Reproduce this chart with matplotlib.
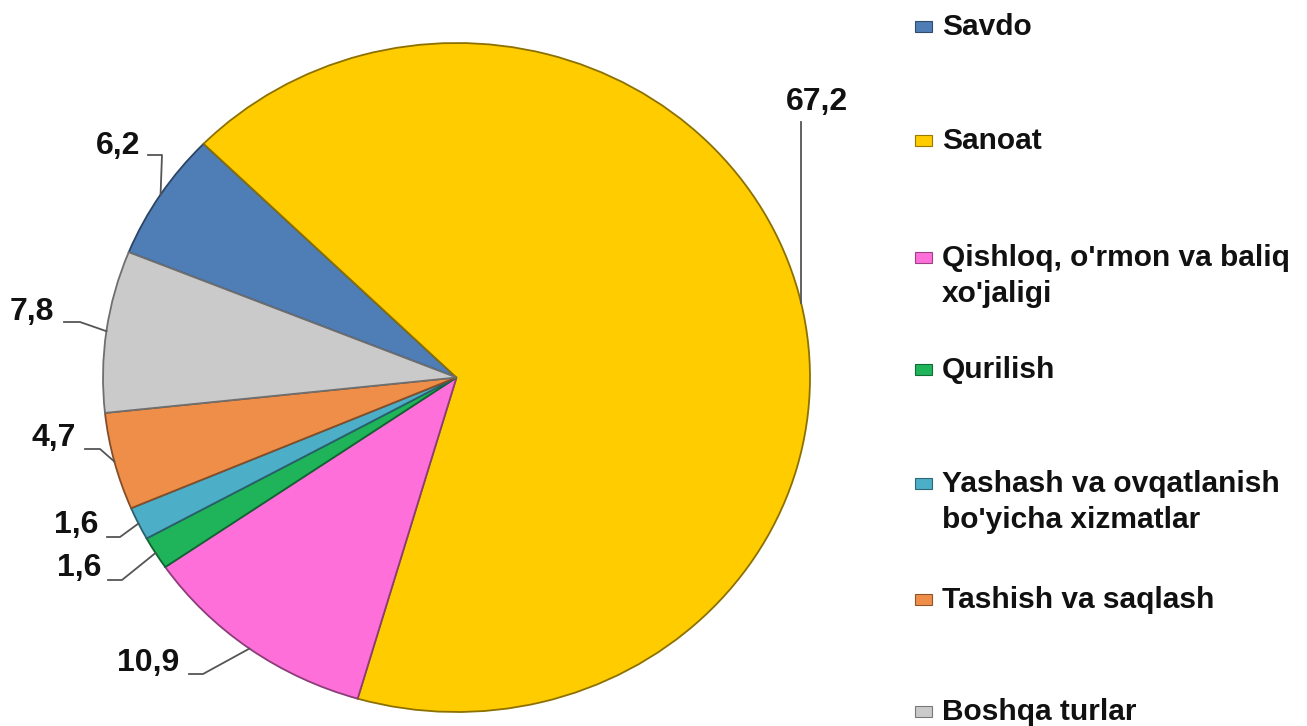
import numpy as np
import matplotlib
matplotlib.use("Agg")
import matplotlib.pyplot as plt
from matplotlib.colors import to_rgb
from matplotlib.patches import Rectangle


W, H = 1307, 726

sectors = [
    "Savdo",
    "Sanoat",
    "Qishloq, o'rmon va baliq\nxo'jaligi",
    "Qurilish",
    "Yashash va ovqatlanish\nbo'yicha xizmatlar",
    "Tashish va saqlash",
    "Boshqa turlar",
]
shares = [6.2, 67.2, 10.9, 1.6, 1.6, 4.7, 7.8]
value_labels = ["6,2", "67,2", "10,9", "1,6", "1,6", "4,7", "7,8"]
colors = ["#4F7DB6", "#FFCC00", "#FF6FDA", "#1FB45A", "#4DAEC8", "#EE8E48", "#CACACA"]

# pie box in pixels (slightly squashed, like the 3D excel pie)
CX, CY, RX, RY = 456.5, 377.5, 353.5, 334.5

# label text centre and leader elbow points, in pixels
label_pos = [(118, 146), (817, 102), (148, 663), (79, 568), (76, 525), (54, 438), (32, 312)]
leader_pts = [
    [(148, 155), (162, 155)],
    [(801, 122)],
    [(189, 674), (203, 674)],
    [(108, 580), (122, 580)],
    [(107, 537), (120, 537)],
    [(85, 449), (100, 449)],
    [(64, 322), (80, 322)],
]

# legend rows: y of first line centre in pixels
legend_y = [27, 141, 258, 370, 484, 600, 712]
LINE_GAP = 36

FONT = "Liberation Sans"


def px_to_data(px, py):
    return (px - CX) / RX, (CY - py) / RY


def darker(c, f=0.7):
    r, g, b = to_rgb(c)
    return (r * f, g * f, b * f)


fig = plt.figure(figsize=(W / 100, H / 100), dpi=100)
ax = fig.add_axes([(CX - RX) / W, (H - CY - RY) / H, 2 * RX / W, 2 * RY / H])

wedges, _ = ax.pie(
    shares,
    colors=colors,
    startangle=158,
    counterclock=False,
    radius=1,
    wedgeprops=dict(linewidth=1.3),
)
for w, c in zip(wedges, colors):
    w.set_edgecolor(darker(c, 0.55))

ax.set_aspect("auto")
ax.set_xlim(-1, 1)
ax.set_ylim(-1, 1)
ax.axis("off")

# data labels with leader lines to the middle of each slice edge
for w, lab, (tx, ty), pts in zip(wedges, value_labels, label_pos, leader_pts):
    mid = np.deg2rad((w.theta1 + w.theta2) / 2)
    xs = [px_to_data(*p)[0] for p in pts] + [np.cos(mid)]
    ys = [px_to_data(*p)[1] for p in pts] + [np.sin(mid)]
    if len(pts) == 1:
        xs[-1] = xs[0]
        ys[-1] = np.sqrt(max(0.0, 1 - xs[0] ** 2))
    ax.plot(xs, ys, color="#555555", lw=1.3, clip_on=False)
    x, y = px_to_data(tx, ty)
    ax.text(x, y, lab, ha="center", va="center", fontsize=23,
            fontweight="bold", family=FONT, color="#111111")

# legend drawn by hand to keep the uneven row spacing
for name, c, ly in zip(sectors, colors, legend_y):
    fig.patches.append(Rectangle((915 / W, 1 - (ly + 5) / H), 17 / W, 11 / H,
                                 transform=fig.transFigure, facecolor=c,
                                 edgecolor=darker(c, 0.6), lw=0.8))
    for i, part in enumerate(name.split("\n")):
        fig.text(942 / W, 1 - (ly + i * LINE_GAP) / H, part, ha="left",
                 va="center", fontsize=21.5, fontweight="bold", family=FONT,
                 color="#111111")

fig.savefig("out.png", dpi=100)
